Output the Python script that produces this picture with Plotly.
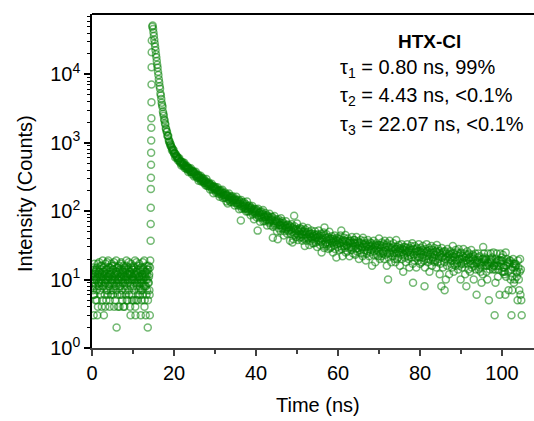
import plotly.graph_objects as go

# ---------------- data ----------------
# pre-pulse background, channels every 0.1 ns starting at 0 ns
baseline_t0 = 0.0
baseline_dt = 0.1
baseline_counts = [
    9, 12, 7, 15, 3, 10, 6, 13, 11, 8,
    14, 10, 5, 3, 17, 12, 8, 9, 11, 13,
    7, 10, 16, 9, 4, 12, 19, 8, 11, 3,
    13, 6, 10, 14, 9, 5, 12, 18, 7, 11,
    10, 15, 8, 4, 12, 9, 13, 6, 17, 10,
    11, 7, 14, 9, 4, 16, 10, 12, 8, 19,
    2, 13, 6, 10, 15, 9, 11, 4, 14, 8,
    12, 18, 7, 10, 5, 13, 9, 16, 11, 4,
    9, 14, 10, 6, 19, 8, 12, 5, 11, 15,
    7, 10, 13, 4, 3, 17, 12, 6, 10, 14,
    11, 8, 5, 15, 10, 19, 3, 12, 5, 9,
    13, 10, 6, 16, 7, 11, 8, 14, 9, 3,
    10, 5, 12, 7, 18, 15, 9, 11, 4, 13,
    8, 3, 10, 6, 12, 14, 2, 9, 16, 11,
    7, 3, 19,
]
# interleaved background channels (0.05 ns, 0.15 ns, ...)
baseline2_t0 = 0.05
baseline2_dt = 0.1
baseline2_counts = [
    11, 8, 14, 6, 10, 17, 9, 12, 5, 13,
    10, 7, 15, 11, 4, 9, 13, 18, 8, 12,
    6, 14, 9, 11, 16, 5, 10, 13, 8, 15,
    12, 9, 4, 17, 10, 7, 14, 11, 6, 19,
    8, 13, 11, 5, 15, 10, 7, 12, 9, 16,
    14, 6, 10, 18, 8, 12, 5, 11, 13, 7,
    9, 15, 12, 4, 10, 16, 8, 13, 6, 11,
    17, 10, 6, 14, 9, 12, 4, 11, 15, 8,
    13, 7, 11, 16, 5, 10, 14, 9, 12, 18,
    6, 12, 9, 13, 8, 15, 10, 5, 11, 14,
    10, 16, 7, 12, 9, 4, 13, 11, 18, 8,
    12, 5, 14, 9, 11, 17, 6, 10, 13, 7,
    15, 9, 11, 6, 14, 10, 8, 19, 5, 12,
    11, 8, 13, 16, 7, 10, 5, 14, 9, 12,
    6, 15,
]

# rising edge of the pulse
rise_time = [14.30, 14.32, 14.34, 14.36, 14.38, 14.40, 14.42, 14.44,
             14.46, 14.48, 14.50, 14.52, 14.54, 14.56, 14.58]
rise_counts = [37, 65, 112, 212, 308, 477, 714, 1080, 1660, 2290,
               3930, 7100, 12700, 21100, 31300]

# decay, channels every 0.1 ns starting at 14.7 ns
decay_t0 = 14.7
decay_dt = 0.1
decay_counts = [
    49670, 51730, 46290,
    40820, 36570, 32160, 28390, 25410, 22470, 19670, 17790, 15710, 13820,
    12540, 10900, 9760, 8490, 7640, 6720, 6157, 5270, 4923, 4354,
    3850, 3577, 3328, 2857, 2658, 2480, 2218, 2116, 1924, 1856,
    1626, 1581, 1461, 1434, 1268, 1261, 1267, 1119, 1040, 1051,
    984, 920, 952, 880, 871, 776, 827, 791, 747, 783,
    691, 704, 704, 610, 683, 634, 640, 600, 632, 599,
    551, 591, 561, 593, 530, 542, 504, 530, 467, 525,
    499, 482, 514, 460, 485, 511, 428, 455, 464, 439,
    415, 462, 432, 412, 435, 375, 418, 425, 395, 406,
    374, 425, 373, 381, 348, 383, 390, 374, 361, 323,
    370, 354, 332, 377, 331, 345, 309, 329, 313, 341,
    278, 328, 308, 291, 311, 330, 272, 290, 309, 275,
    294, 276, 301, 258, 275, 259, 281, 240, 267, 295,
    249, 234, 261, 250, 232, 262, 238, 247, 208, 246,
    237, 222, 251, 208, 223, 230, 183, 232, 211, 219,
    201, 225, 210, 186, 214, 200, 223, 189, 199, 179,
    199, 163, 200, 187, 180, 200, 170, 188, 206, 156,
    175, 183, 169, 157, 187, 171, 159, 176, 139, 168,
    175, 130, 166, 147, 181, 150, 156, 137, 159, 166,
    135, 159, 143, 165, 145, 134, 151, 144, 121, 153,
    145, 132, 162, 133, 144, 122, 136, 127, 147, 107,
    140, 129, 119, 73, 146, 109, 122, 135, 114, 128,
    117, 135, 108, 120, 110, 126, 99, 118, 139, 108,
    99, 118, 111, 100, 121, 105, 112, 87, 113, 107,
    98, 119, 90, 101, 106, 76, 109, 95, 101, 90,
    107, 97, 81, 102, 52, 109, 86, 94, 81, 95,
    70, 97, 89, 83, 99, 79, 91, 104, 71, 84,
    89, 81, 72, 94, 82, 75, 87, 62, 82, 86,
    74, 81, 68, 92, 71, 75, 62, 79, 83, 75,
    82, 41, 59, 71, 66, 85, 62, 72, 66, 76,
    70, 51, 73, 39, 67, 76, 56, 63, 69, 63,
    51, 79, 67, 56, 72, 58, 61, 67, 44, 63,
    51, 61, 54, 71, 57, 63, 47, 58, 64, 51,
    58, 53, 62, 37, 59, 54, 46, 65, 50, 35,
    58, 39, 55, 86, 60, 45, 51, 55, 42, 47,
    66, 52, 38, 55, 44, 50, 41, 57, 46, 52,
    42, 55, 46, 37, 59, 50, 40, 45, 51, 31,
    54, 41, 46, 37, 49, 42, 57, 40, 46, 50,
    32, 43, 47, 37, 42, 52, 40, 47, 34, 44,
    43, 34, 46, 39, 51, 41, 35, 45, 41, 30,
    46, 42, 36, 52, 38, 44, 32, 40, 36, 47,
    25, 44, 38, 33, 41, 49, 29, 58, 44, 33,
    41, 35, 46, 31, 38, 33, 42, 28, 39, 50,
    34, 29, 40, 37, 30, 43, 35, 39, 25, 40,
    37, 32, 44, 28, 35, 38, 21, 41, 33, 37,
    30, 40, 35, 27, 39, 34, 44, 31, 52, 28,
    36, 22, 38, 34, 31, 41, 29, 37, 45, 25,
    32, 36, 31, 26, 40, 34, 29, 37, 22, 35,
    37, 30, 34, 27, 42, 29, 32, 24, 35, 38,
    38, 34, 23, 31, 28, 42, 26, 34, 29, 36,
    32, 20, 35, 27, 31, 38, 24, 29, 34, 30,
    22, 41, 33, 25, 37, 27, 30, 34, 19, 32,
    24, 31, 26, 38, 28, 33, 22, 30, 35, 25,
    31, 27, 34, 16, 32, 28, 23, 37, 26, 30,
    32, 18, 31, 27, 34, 23, 29, 32, 22, 26,
    40, 30, 20, 32, 24, 29, 22, 35, 26, 31,
    24, 33, 26, 20, 37, 30, 23, 27, 32, 16,
    34, 24, 10, 21, 30, 25, 37, 24, 29, 32,
    18, 27, 29, 22, 26, 34, 24, 30, 20, 28,
    18, 28, 38, 24, 20, 30, 26, 21, 32, 25,
    28, 16, 29, 27, 23, 33, 20, 25, 28, 13,
    30, 23, 27, 21, 30, 26, 18, 29, 25, 33,
    22, 26, 20, 27, 15, 29, 25, 23, 31, 21,
    27, 34, 17, 9, 28, 23, 19, 31, 25, 21,
    28, 15, 26, 29, 22, 26, 19, 33, 21, 24,
    17, 26, 29, 25, 18, 27, 21, 31, 23, 19,
    26, 8, 15, 28, 25, 20, 33, 22, 26, 18,
    24, 20, 29, 13, 27, 23, 19, 25, 31, 16,
    21, 27, 19, 25, 21, 29, 18, 23, 19, 26,
    15, 32, 25, 18, 28, 20, 22, 26, 12, 24,
    17, 23, 8, 29, 21, 25, 15, 22, 26, 18,
    7, 20, 26, 10, 24, 21, 16, 28, 19, 22,
    24, 12, 23, 20, 26, 17, 21, 24, 15, 19,
    31, 22, 13, 24, 17, 21, 16, 27, 19, 23,
    17, 25, 19, 14, 28, 22, 16, 20, 24, 10,
    25, 17, 20, 15, 22, 18, 28, 17, 21, 24,
    12, 19, 22, 8, 19, 26, 17, 23, 14, 20,
    24, 21, 13, 19, 17, 27, 15, 21, 17, 23,
    20, 10, 22, 16, 19, 24, 14, 17, 6, 18,
    19, 21, 24, 14, 18, 22, 15, 17, 13, 16,
    9, 18, 20, 12, 30, 20, 24, 18, 21, 19,
    16, 20, 13, 16, 10, 18, 24, 17, 5, 16,
    14, 18, 20, 24, 18, 19, 21, 15, 14, 25,
    16, 16, 3, 14, 9, 20, 18, 24, 16, 19,
    11, 14, 16, 19, 6, 18, 24, 19, 17, 21,
    19, 13, 23, 15, 13, 15, 12, 13, 6, 25,
    11, 16, 20, 17, 18, 13, 7, 18, 19, 17,
    19, 10, 14, 3, 11, 7, 15, 20, 17, 9,
    17, 10, 15, 17, 16, 13, 11, 13, 5, 19,
    15, 10, 7, 13, 20, 6, 14, 5, 3,
]

# axis ticks and labels
x_tick_vals = [0, 20, 40, 60, 80, 100]
x_minor_vals = [10, 30, 50, 70, 90]
y_tick_vals = [1, 10, 100, 1000, 10000]
y_tick_text = ["10<sup>0</sup>", "10<sup>1</sup>", "10<sup>2</sup>",
               "10<sup>3</sup>", "10<sup>4</sup>"]
y_minor_vals = [2, 3, 4, 5, 6, 7, 8, 9,
                20, 30, 40, 50, 60, 70, 80, 90,
                200, 300, 400, 500, 600, 700, 800, 900,
                2000, 3000, 4000, 5000, 6000, 7000, 8000, 9000,
                20000, 30000, 40000, 50000, 60000, 70000]

x_title = "Time (ns)"
y_title = "Intensity (Counts)"
sample_name = "HTX-Cl"
fit_lines = [
    "τ<sub>1</sub> = 0.80 ns, 99%",
    "τ<sub>2</sub> = 4.43 ns, <0.1%",
    "τ<sub>3</sub> = 22.07 ns, <0.1%",
]

# ---------------- figure ----------------
FONT = "Arial"
marker = dict(symbol="circle-open", size=7, color="rgba(0,128,0,0.55)",
              line=dict(width=1.5))

fig = go.Figure()
fig.add_trace(go.Scatter(y=baseline_counts, x0=baseline_t0, dx=baseline_dt,
                         mode="markers", marker=marker, hoverinfo="skip"))
fig.add_trace(go.Scatter(y=baseline2_counts, x0=baseline2_t0, dx=baseline2_dt,
                         mode="markers", marker=marker, hoverinfo="skip"))
fig.add_trace(go.Scatter(x=rise_time, y=rise_counts,
                         mode="markers", marker=marker, hoverinfo="skip"))
fig.add_trace(go.Scatter(y=decay_counts, x0=decay_t0, dx=decay_dt,
                         mode="markers", marker=marker, hoverinfo="skip"))

L, T, B = 92, 14, 73
W, H = 534, 421
PW, PH = W - L, H - T - B

def px_x(px):
    return (px - L) / PW

def px_y(py):
    return (H - B - py) / PH

fig.update_layout(
    width=W, height=H,
    margin=dict(l=L, r=0, t=T, b=B, pad=0),
    paper_bgcolor="white", plot_bgcolor="white",
    showlegend=False,
    font=dict(family=FONT, size=20, color="black"),
    xaxis=dict(
        range=[0, 107.8], showgrid=False, zeroline=False,
        showline=True, linecolor="#404040", linewidth=2,
        ticks="outside", ticklen=6, tickwidth=1.5, tickcolor="#404040",
        tickvals=x_tick_vals, tickfont=dict(family=FONT, size=20, color="black"),
        minor=dict(tickvals=x_minor_vals, ticks="outside", ticklen=3.5,
                   tickwidth=1.5, tickcolor="#404040", showgrid=False),
    ),
    yaxis=dict(
        type="log", range=[0, 4.883], showgrid=False, zeroline=False,
        showline=True, linecolor="black", linewidth=1.5,
        ticks="outside", ticklen=6, tickwidth=1.5, tickcolor="black",
        tickvals=y_tick_vals, ticktext=y_tick_text,
        tickfont=dict(family=FONT, size=20, color="black"),
        minor=dict(tickvals=y_minor_vals, ticks="outside", ticklen=3.5,
                   tickwidth=1, tickcolor="black", showgrid=False),
    ),
    shapes=[dict(type="line", xref="paper", yref="paper", x0=0, x1=1,
                 y0=1, y1=1, line=dict(color="black", width=2))],
)

ann = []
ann.append(dict(text="<b>" + sample_name + "</b>", x=px_x(429.5), y=px_y(41),
                xanchor="center", yanchor="middle", showarrow=False,
                font=dict(family=FONT, size=19, color="black")))
for txt, py in zip(fit_lines, [68, 96.5, 125]):
    ann.append(dict(text=txt, x=px_x(338), y=px_y(py), xanchor="left",
                    yanchor="middle", showarrow=False,
                    font=dict(family=FONT, size=20, color="black")))
ann.append(dict(text=y_title, x=px_x(25), y=px_y(194), textangle=-90,
                xanchor="center", yanchor="middle", showarrow=False,
                font=dict(family=FONT, size=20, color="black")))
ann.append(dict(text=x_title, x=px_x(318), y=px_y(405),
                xanchor="center", yanchor="middle", showarrow=False,
                font=dict(family=FONT, size=20, color="black")))
for a in ann:
    a["xref"] = "paper"
    a["yref"] = "paper"
fig.update_layout(annotations=ann)

fig.write_html("out.html")
